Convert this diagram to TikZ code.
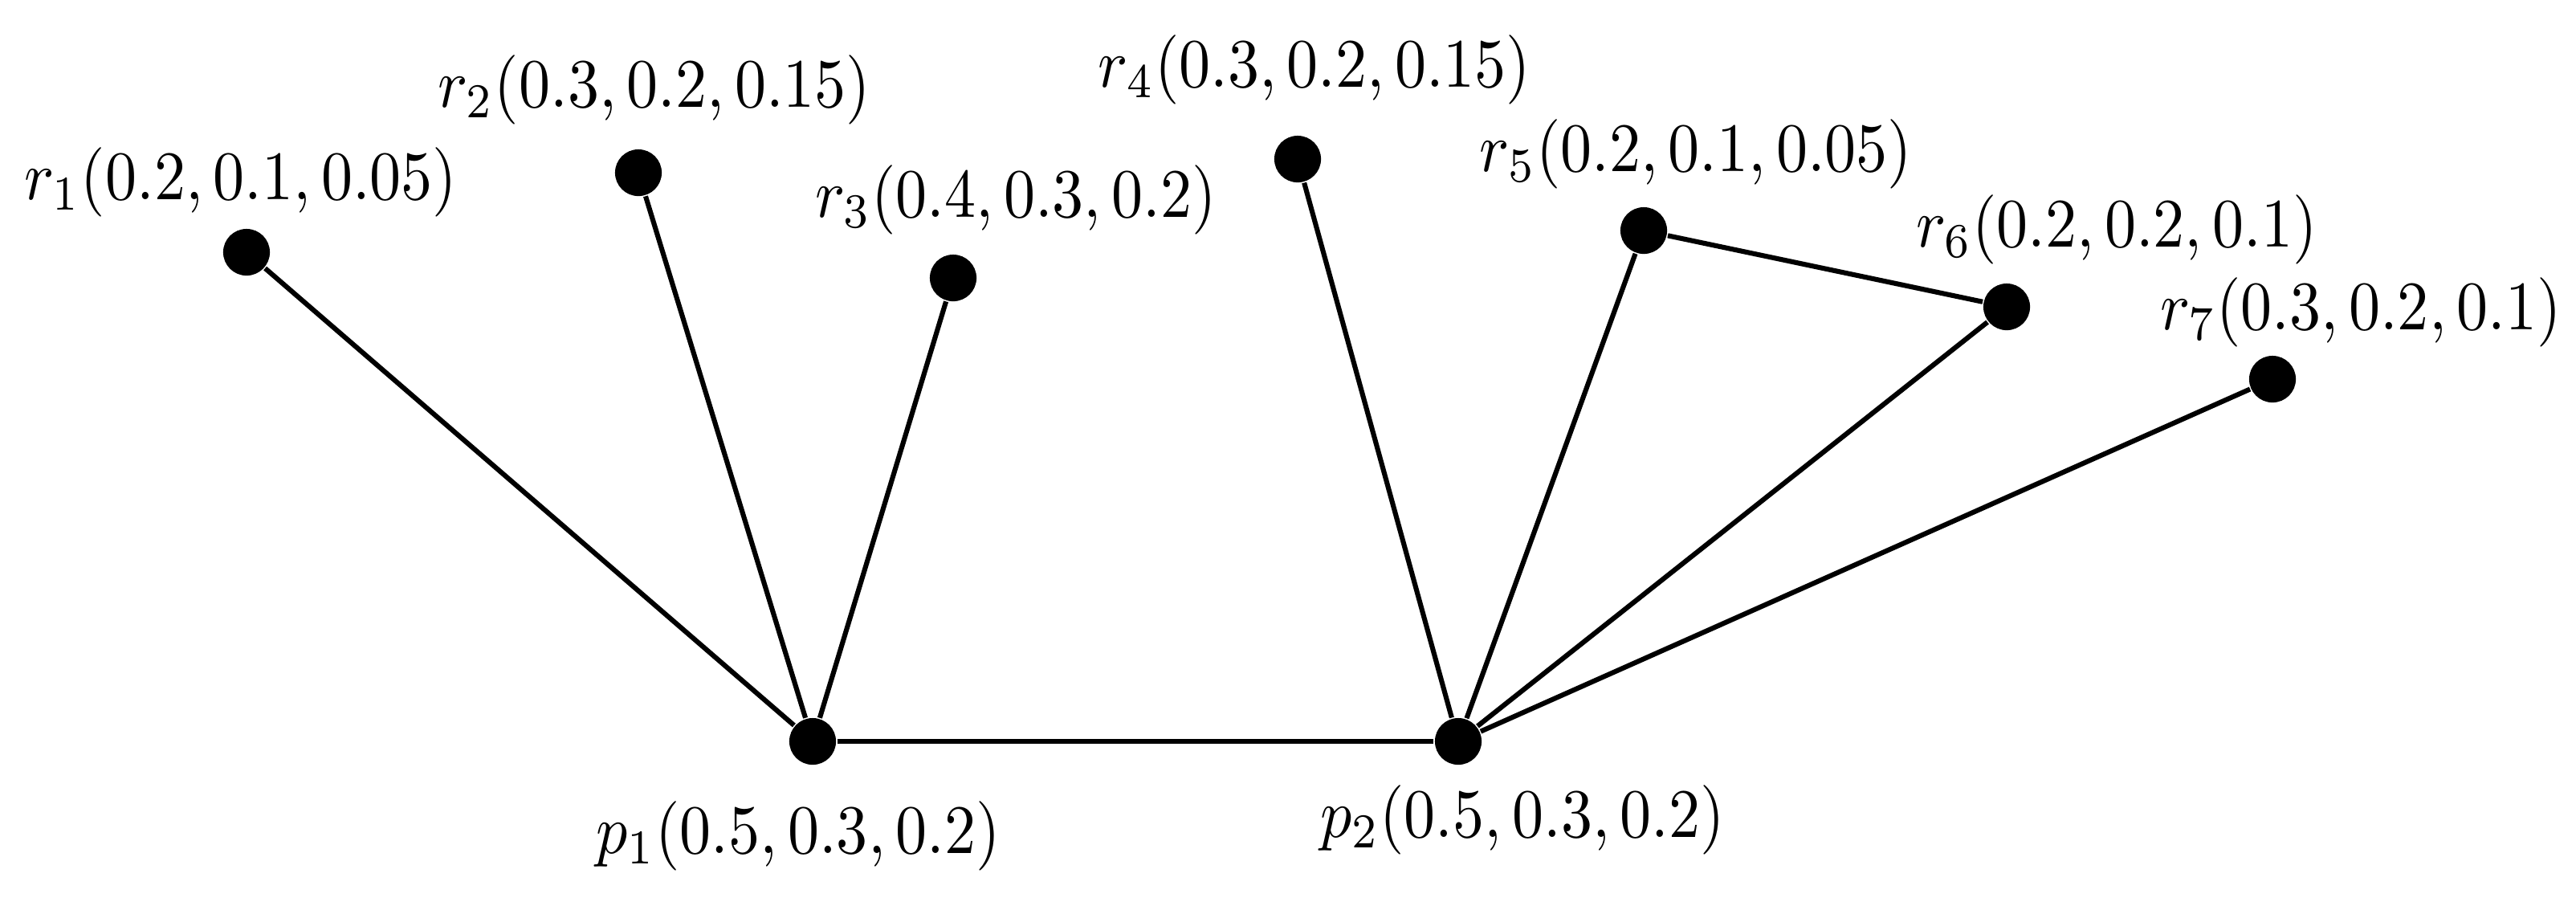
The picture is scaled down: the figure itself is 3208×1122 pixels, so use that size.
\documentclass[tikz,border=0pt]{standalone}
\begin{document}
\begin{tikzpicture}[x=0.1307pt,y=-0.1307pt,
  dot/.style={circle,fill=black,inner sep=0pt,minimum size=7.6pt},
  lab/.style={anchor=base,inner sep=0pt,xscale=1.02,yscale=1.13},
  edge/.style={line width=0.8pt,black}]
\useasboundingbox (0,0) rectangle (3208,1122);
% dots
\node[dot] (r1) at (307,314) {};
\node[dot] (r2) at (795,215) {};
\node[dot] (r3) at (1187,346) {};
\node[dot] (r4) at (1616,198) {};
\node[dot] (r5) at (2047,287) {};
\node[dot] (r6) at (2499,382) {};
\node[dot] (r7) at (2830,472) {};
\node[dot] (p1) at (1012,923) {};
\node[dot] (p2) at (1816,923) {};
% labels
\node[lab] (l1) at (300,248) {$r_1(0.2,0.1,0.05)$};
\node[lab] (l2) at (815,133) {$r_2(0.3,0.2,0.15)$};
\node[lab] (l3) at (1265,270) {$r_3(0.4,0.3,0.2)$};
\node[lab] (l4) at (1637,108) {$r_4(0.3,0.2,0.15)$};
\node[lab] (l5) at (2112,213) {$r_5(0.2,0.1,0.05)$};
\node[lab] (l6) at (2636,307) {$r_6(0.2,0.2,0.1)$};
\node[lab] (l7) at (2940,410) {$r_7(0.3,0.2,0.1)$};
\node[lab] (lp1) at (994,1062) {$p_1(0.5,0.3,0.2)$};
\node[lab] (lp2) at (1896,1042) {$p_2(0.5,0.3,0.2)$};
% edges
\draw[edge] (r1) -- (p1);
\draw[edge] (r2) -- (p1);
\draw[edge] (r3) -- (p1);
\draw[edge] (p1) -- (p2);
\draw[edge] (r4) -- (p2);
\draw[edge] (r5) -- (p2);
\draw[edge] (r6) -- (p2);
\draw[edge] (r7) -- (p2);
\draw[edge] (r5) -- (r6);
\end{tikzpicture}
\end{document}
